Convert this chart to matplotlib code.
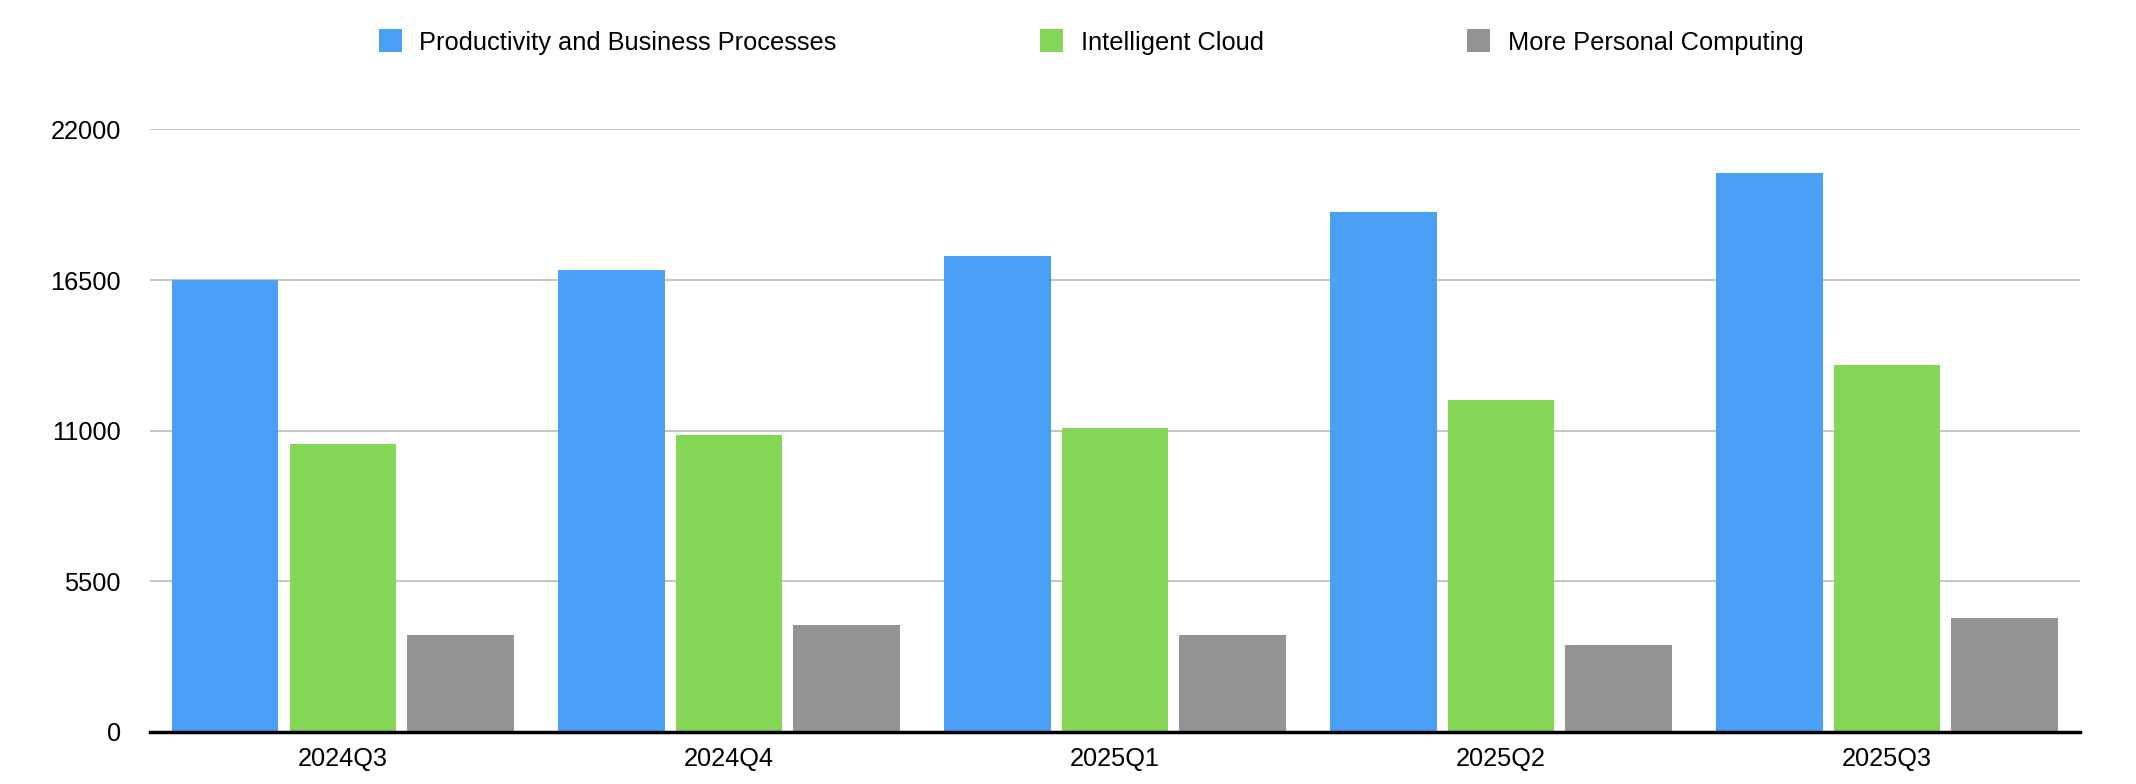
import numpy as np
import matplotlib
matplotlib.use('Agg')
import matplotlib.pyplot as plt

# quarterly segment figures
quarters = ['2024Q3', '2024Q4', '2025Q1', '2025Q2', '2025Q3']
prod_business = [16500, 16865, 17376, 18982, 20406]
intelligent_cloud = [10513, 10842, 11097, 12120, 13397]
personal_computing = [3541, 3906, 3541, 3176, 4162]

series_names = ['Productivity and Business Processes', 'Intelligent Cloud', 'More Personal Computing']
series_cols = ['#4a9ff7', '#83d754', '#949494']
y_ticks = [0, 5500, 11000, 16500, 22000]

plt.rcParams['font.family'] = ['Liberation Sans', 'DejaVu Sans']

fig = plt.figure(figsize=(21.36, 7.84), dpi=100)
ax = fig.add_axes([0.0702, 0.0664, 0.9036, 0.7686])

x = np.arange(len(quarters))
bar_w = 0.276
step = 0.305

for i, (vals, name, col) in enumerate(zip([prod_business, intelligent_cloud, personal_computing],
                                          series_names, series_cols)):
    ax.bar(x + (i - 1) * step, vals, width=bar_w, color=col, label=name, zorder=3)

ax.set_xlim(-0.5, len(quarters) - 0.5)
ax.set_ylim(0, 22000)
ax.set_yticks(y_ticks)
ax.set_yticklabels([str(v) for v in y_ticks])
ax.set_xticks(x)
ax.set_xticklabels(quarters)

ax.grid(axis='y', color='#c0c0c0', lw=1.3, zorder=0)
ax.tick_params(axis='both', length=0, labelsize=18.3)
ax.tick_params(axis='y', pad=21)
ax.tick_params(axis='x', pad=11)

for s in ['top', 'right', 'left']:
    ax.spines[s].set_visible(False)
ax.spines['bottom'].set_color('black')
ax.spines['bottom'].set_linewidth(2.5)
ax.spines['bottom'].set_zorder(4)

fig.legend(loc='center', bbox_to_anchor=(1091 / 2136, 1 - 42 / 784), ncol=3,
           frameon=False, fontsize=18.3, handlelength=0.92, handleheight=1.0,
           handletextpad=0.68, columnspacing=8.0)

plt.savefig('out.png', dpi=100)
